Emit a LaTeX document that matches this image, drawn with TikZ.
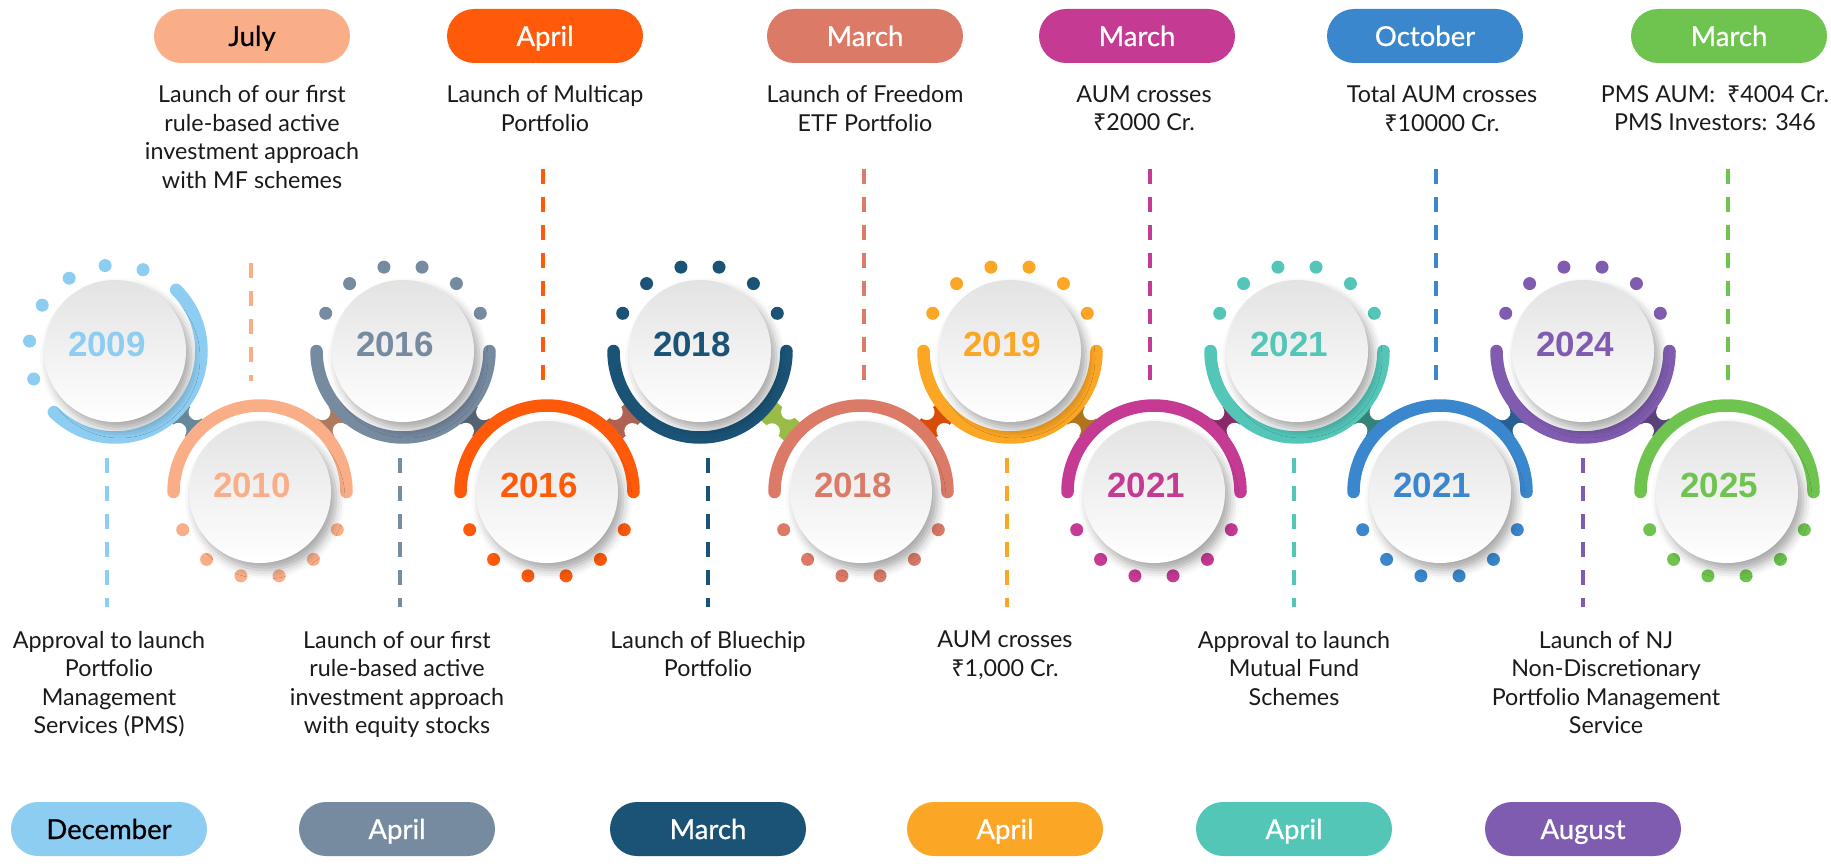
\documentclass[tikz,border=0pt]{standalone}
\usepackage{fontspec}
\setmainfont{Lato}
\newfontfamily\yearfont{Liberation Sans}
\newfontfamily\pillfont{Lato}[FakeBold=0.7]
\newfontfamily\rupfont{Noto Sans}
\newcommand{\rupee}{{\rupfont ₹}}
\usepackage{tikz}
\usetikzlibrary{positioning,calc,shadows.blur}

\definecolor{sky}{HTML}{8ECDF2}
\definecolor{peach}{HTML}{F9AE88}
\definecolor{slate}{HTML}{768AA0}
\definecolor{tang}{HTML}{FE5A0A}
\definecolor{navyb}{HTML}{1B5376}
\definecolor{coral}{HTML}{DB7B67}
\definecolor{amberc}{HTML}{FBA625}
\definecolor{berry}{HTML}{C53A93}
\definecolor{tealc}{HTML}{53C6B8}
\definecolor{azure}{HTML}{3A87CE}
\definecolor{plum}{HTML}{7F5CAF}
\definecolor{leaf}{HTML}{6EC44E}
\definecolor{inktext}{HTML}{1A1A1A}

% ring with six dots: name, colour, start angle
\newcommand{\Ring}[3]{%
  \draw[ring, #2] ($(#1)+(#3:86.5pt)$) arc[start angle=#3, delta angle=180, radius=86.5pt];
  \fill[#2] (#1) ++(#3-154:86pt) circle (6.5pt) (#1) ++(#3-128.4:86pt) circle (6.5pt)
            (#1) ++(#3-102.8:86pt) circle (6.5pt) (#1) ++(#3-77.2:86pt) circle (6.5pt)
            (#1) ++(#3-51.6:86pt) circle (6.5pt) (#1) ++(#3-26:86pt) circle (6.5pt);
}
% little joint between two rings
\newcommand{\Bridge}[3]{%
  \draw[bridge, #3] ($(#1)!86.5pt!(#2)$) -- ($(#2)!86.5pt!(#1)$);
  \fill[carve] ($(#1)!0.5!(#2)!13pt!90:(#2)$) circle (8pt)
               ($(#1)!0.5!(#2)!13pt!-90:(#2)$) circle (8pt);
}

\begin{document}
\begin{tikzpicture}[x=1pt,y=-1pt]
  \tikzset{
    ring/.style={line width=12.5pt, line cap=round},
    bridge/.style={line width=24pt},
    carve/.style={fill=white},
    disc/.style={circle, minimum size=142pt, inner sep=0pt, top color=black!11, bottom color=white,
      blur shadow={shadow xshift=5pt, shadow yshift=-7pt, shadow blur radius=9pt, shadow opacity=35}},
    yr/.style={font=\yearfont\bfseries\fontsize{35}{35}\selectfont, xshift=-8pt, yshift=7pt},
    pill/.style={rounded corners=27pt, minimum width=196pt, minimum height=54pt, inner sep=0pt,
      text=white, font=\pillfont\fontsize{27.5}{27.5}\selectfont, text height=22pt, text depth=2pt},
    desc/.style={align=center, text=inktext, font=\fontsize{23.3}{28.5}\selectfont, inner sep=0pt},
    guide/.style={line width=4pt, dash pattern=on 15pt off 13pt},
  }
  \useasboundingbox (0,0) rectangle (1831,864);

  \coordinate (u1) at (115,351);
  \coordinate (u2) at (403,351);
  \coordinate (u3) at (700,351);
  \coordinate (u4) at (1010,351);
  \coordinate (u5) at (1297,351);
  \coordinate (u6) at (1583,351);
  \coordinate (l1) at (260,492);
  \coordinate (l2) at (547,492);
  \coordinate (l3) at (861,492);
  \coordinate (l4) at (1154,492);
  \coordinate (l5) at (1440,492);
  \coordinate (l6) at (1727,492);

  \Bridge{u1}{l1}{sky!60!black!90}
  \Bridge{l1}{u2}{peach!70!black}
  \Bridge{u2}{l2}{slate!70!black}
  \Bridge{l2}{u3}{coral!80!black}
  \Bridge{u3}{l3}{yellow!60!green!80!black!90}
  \Bridge{l3}{u4}{tang!85!black}
  \Bridge{u4}{l4}{amberc!70!black}
  \Bridge{l4}{u5}{berry!70!black}
  \Bridge{u5}{l5}{tealc!65!black}
  \Bridge{l5}{u6}{azure!70!black}
  \Bridge{u6}{l6}{plum!70!black}

  \Ring{u1}{sky}{225}
  \Ring{u2}{slate}{180}
  \Ring{u3}{navyb}{180}
  \Ring{u4}{amberc}{180}
  \Ring{u5}{tealc}{180}
  \Ring{u6}{plum}{180}
  \Ring{l1}{peach}{0}
  \Ring{l2}{tang}{0}
  \Ring{l3}{coral}{0}
  \Ring{l4}{berry}{0}
  \Ring{l5}{azure}{0}
  \Ring{l6}{leaf}{0}

  \node[disc, label={[yr, text=sky]center:2009}] (y09) at (u1) {};
  \node[disc, label={[yr, text=slate]center:2016}] (y16) at (u2) {};
  \node[disc, label={[yr, text=navyb]center:2018}] (y18) at (u3) {};
  \node[disc, label={[yr, text=amberc]center:2019}] (y19) at (u4) {};
  \node[disc, label={[yr, text=tealc]center:2021}] (y21) at (u5) {};
  \node[disc, label={[yr, text=plum]center:2024}] (y24) at (u6) {};
  \node[disc, label={[yr, text=peach]center:2010}] (y10) at (l1) {};
  \node[disc, label={[yr, text=tang]center:2016}] (y16b) at (l2) {};
  \node[disc, label={[yr, text=coral]center:2018}] (y18b) at (l3) {};
  \node[disc, label={[yr, text=berry]center:2021}] (y21b) at (l4) {};
  \node[disc, label={[yr, text=azure]center:2021}] (y21c) at (l5) {};
  \node[disc, label={[yr, text=leaf]center:2025}] (y25) at (l6) {};

  % dashed guides
  \draw[guide, sky] (107,458) -- (107,607);
  \draw[guide, slate] (400,458) -- (400,607);
  \draw[guide, navyb] (708,458) -- (708,607);
  \draw[guide, amberc] (1007,458) -- (1007,607);
  \draw[guide, tealc] (1294,458) -- (1294,607);
  \draw[guide, plum] (1583,458) -- (1583,607);
  \draw[guide, peach] (251,263) -- (251,381);
  \draw[guide, tang] (543,169) -- (543,381);
  \draw[guide, coral] (864,169) -- (864,381);
  \draw[guide, berry] (1150,169) -- (1150,381);
  \draw[guide, azure] (1436,169) -- (1436,381);
  \draw[guide, leaf] (1728,169) -- (1728,381);

  % months on top
  \node[pill, fill=peach, text=black] (jul10) at (252,36) {July};
  \node[pill, fill=tang] (apr16) at (545,36) {April};
  \node[pill, fill=coral] (mar18) at (865,36) {March};
  \node[pill, fill=berry] (mar21) at (1137,36) {March};
  \node[pill, fill=azure] (oct21) at (1425,36) {October};
  \node[pill, fill=leaf] (mar25) at (1729,36) {March};

  \node[desc, below=22pt of jul10] (t10) {Launch of our first\\rule-based active\\investment approach\\with MF schemes};
  \node[desc, below=22pt of apr16] (t16) {Launch of Multicap\\Portfolio};
  \node[desc, below=22pt of mar18] (t18) {Launch of Freedom\\ETF Portfolio};
  \node[desc, below=22pt of mar21, xshift=7pt] (t21) {AUM crosses\\\rupee2000 Cr.};
  \node[desc, below=22pt of oct21, xshift=17pt] (t21b) {Total AUM crosses\\\rupee10000 Cr.};
  \node[desc, below=22pt of mar25, xshift=-14pt] (t25) {PMS AUM:\ \ \rupee4004 Cr.\\PMS Investors: 346};

  % months at the bottom
  \node[pill, fill=sky, text=black] (dec09) at (109,829) {December};
  \node[pill, fill=slate] (apr16b) at (397,829) {April};
  \node[pill, fill=navyb] (mar18b) at (708,829) {March};
  \node[pill, fill=amberc] (apr19) at (1005,829) {April};
  \node[pill, fill=tealc] (apr21) at (1294,829) {April};
  \node[pill, fill=plum] (aug24) at (1583,829) {August};

  \node[desc, anchor=north] (b09) at (109,631) {Approval to launch\\Portfolio\\Management\\Services (PMS)};
  \node[desc, anchor=north] (b16) at (397,631) {Launch of our first\\rule-based active\\investment approach\\with equity stocks};
  \node[desc, anchor=north] (b18) at (708,631) {Launch of Bluechip\\Portfolio};
  \node[desc, anchor=north] (b19) at (1005,631) {AUM crosses\\\rupee1,000 Cr.};
  \node[desc, anchor=north] (b21) at (1294,631) {Approval to launch\\Mutual Fund\\Schemes};
  \node[desc, anchor=north] (b24) at (1606,631) {Launch of NJ\\Non-Discretionary\\Portfolio Management\\Service};
\end{tikzpicture}
\end{document}
